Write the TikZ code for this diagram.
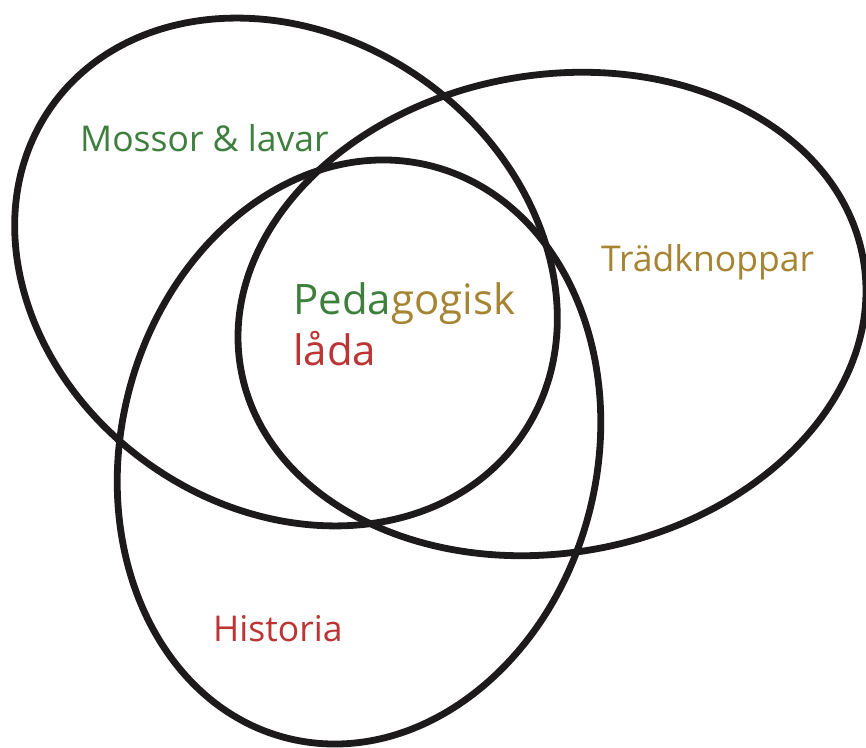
\documentclass[tikz,border=0pt]{standalone}
\usepackage{fontspec}
\setmainfont{Open Sans}
\definecolor{ink}{HTML}{1C1A1A}
\definecolor{moss}{HTML}{3E7F3E}
\definecolor{gold}{HTML}{A68431}
\definecolor{hist}{HTML}{BC3433}
\begin{document}
\begin{tikzpicture}[x=1pt,y=1pt,
  ring/.style={line width=6.8pt, draw=ink},
  lbl/.style={anchor=base west, inner sep=0pt, font=\fontsize{35.5}{40}\selectfont},
  ctr/.style={anchor=base west, inner sep=0pt, font=\fontsize{42}{48}\selectfont}]
\useasboundingbox (0,0) rectangle (866,747);
\clip (0,0) rectangle (866,747);
\fill[white] (0,0) rectangle (866,747);
% Mossor & lavar ellipse
\draw[ring, rotate around={-35:(286,475)}] (286,475) ellipse [x radius=287pt, y radius=236pt];
% Traedknoppar ellipse
\draw[ring, rotate around={10:(552,433)}] (552,433) ellipse [x radius=316pt, y radius=239pt];
% Historia ellipse
\draw[ring, rotate around={-14:(359,295)}] (359,295) ellipse [x radius=238pt, y radius=295pt];
\node[lbl, text=moss] (moss) at (80,595) {Mossor \& lavar};
\node[lbl, text=gold] (trad) at (601,475) {Trädknoppar};
\node[lbl, text=hist] (hist) at (213,106) {Historia};
\node[ctr] (ped) at (293,432) {{\color{moss}Peda}{\color{gold}gogisk}};
\node[ctr, text=hist] (lada) at (293,381) {låda};
\end{tikzpicture}
\end{document}
